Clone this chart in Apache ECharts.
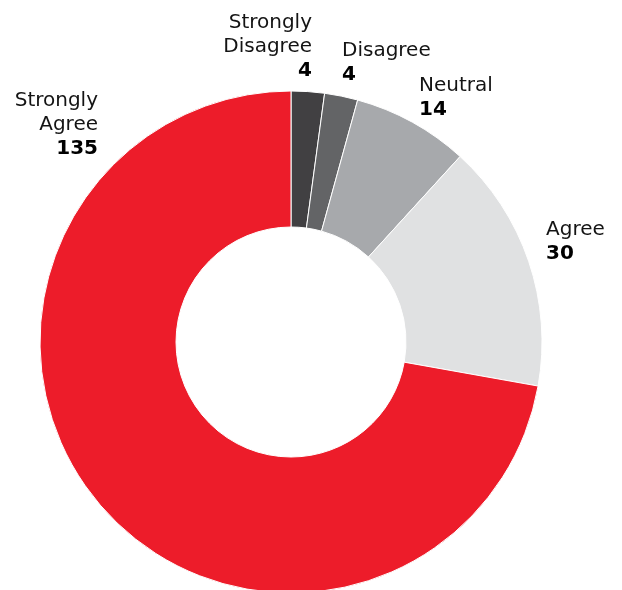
<!DOCTYPE html>
<html>
<head>
<meta charset="utf-8">
<script src="https://cdn.jsdelivr.net/npm/echarts@6/dist/echarts.min.js"></script>
<style>
html,body{margin:0;padding:0;background:#fff;}
#chart{width:622px;height:590px;}
</style>
</head>
<body>
<div id="chart"></div>
<script>
const categories = ["Strongly Disagree", "Disagree", "Neutral", "Agree", "Strongly Agree"];
const values = [4, 4, 14, 30, 135];
const colors = ["#414042", "#636466", "#a7a9ac", "#e0e1e2", "#ed1c2a"];

// label anchors (top of text block) and alignment
const labelPos = [
  {x: 312, y: 11, align: "right"},
  {x: 342, y: 39, align: "left"},
  {x: 419, y: 74, align: "left"},
  {x: 546, y: 218, align: "left"},
  {x: 98, y: 89, align: "right"}
];

const chart = echarts.init(document.getElementById("chart"), null, {renderer: "canvas"});
chart.setOption({
  animation: false,
  backgroundColor: "#ffffff",
  textStyle: {fontFamily: "DejaVu Sans"},
  series: [{
    type: "pie",
    center: [291, 342],
    radius: [115, 251],
    startAngle: 90,
    clockwise: true,
    avoidLabelOverlap: false,
    itemStyle: {borderColor: "#ffffff", borderWidth: 1},
    label: {
      show: true,
      position: "outside",
      formatter: function (p) {
        const words = p.name.split(" ").map(w => "{n|" + w + "}");
        return words.join("\n") + "\n{v|" + p.value + "}";
      },
      rich: {
        n: {fontFamily: "DejaVu Sans", fontSize: 20, lineHeight: 24, color: "#141414"},
        v: {fontFamily: "DejaVu Sans", fontSize: 20, lineHeight: 24, fontWeight: "bold", color: "#000000"}
      }
    },
    labelLine: {show: false},
    labelLayout: function (params) {
      const lp = labelPos[params.dataIndex];
      return {x: lp.x, y: lp.y, align: lp.align, verticalAlign: "top"};
    },
    data: categories.map((c, i) => ({
      name: c,
      value: values[i],
      itemStyle: {color: colors[i]},
      label: {align: labelPos[i].align}
    }))
  }]
});
</script>
</body>
</html>
